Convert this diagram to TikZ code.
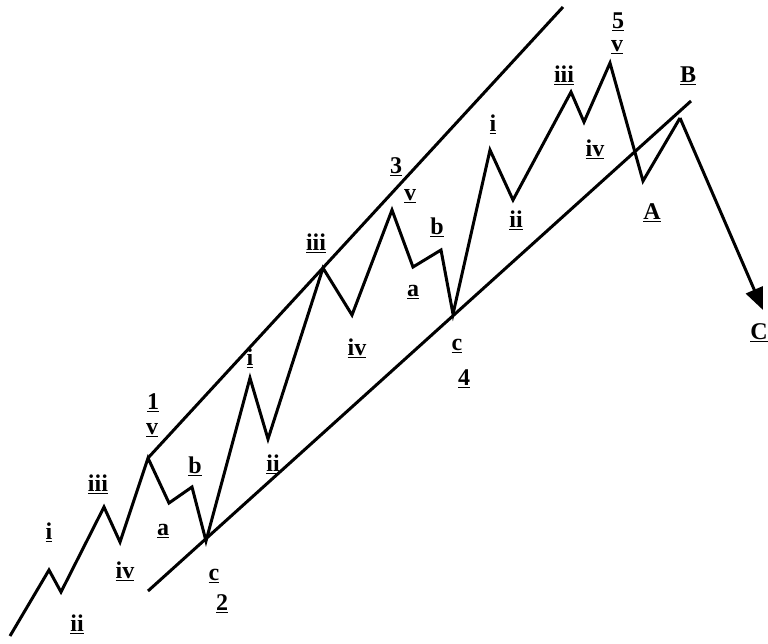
\documentclass[tikz,border=0pt]{standalone}
\usepackage{fontspec}
\setmainfont{Liberation Serif}
\usetikzlibrary{arrows.meta}
\begin{document}
\begin{tikzpicture}[x=1pt,y=-1pt,
  wave/.style={line width=3pt,line join=miter,line cap=butt},
  chan/.style={line width=3pt,line cap=butt},
  lbl/.style={font=\fontsize{24}{26}\selectfont\bfseries,inner sep=0pt}]
\useasboundingbox (0,0) rectangle (768,643);
% wave points
\coordinate (s0) at (10,636);
\coordinate (w1i) at (49,570);
\coordinate (w1ii) at (61,592);
\coordinate (w1iii) at (104,507);
\coordinate (w1iv) at (120,542);
\coordinate (w1v) at (148,458);
\coordinate (w2a) at (169,503);
\coordinate (w2b) at (192,487);
\coordinate (w2c) at (206,541);
\coordinate (w3i) at (250,378);
\coordinate (w3ii) at (268,439);
\coordinate (w3iii) at (323,268);
\coordinate (w3iv) at (352,315);
\coordinate (w3v) at (392,210);
\coordinate (w4a) at (413,267);
\coordinate (w4b) at (441,250);
\coordinate (w4c) at (453,314);
\coordinate (w5i) at (490,150);
\coordinate (w5ii) at (513,200);
\coordinate (w5iii) at (571,92);
\coordinate (w5iv) at (584,122);
\coordinate (w5v) at (610,63);
\coordinate (cA) at (643,181);
\coordinate (cB) at (680,118);
\coordinate (cC) at (763,310);
% channel ends
\coordinate (u1) at (148,458);
\coordinate (u2) at (563,7);
\coordinate (l1) at (148,591);
\coordinate (l2) at (691,101);
% channel lines
\draw[chan] (u1) -- (u2);
\draw[chan] (l1) -- (l2);
% wave
\draw[wave] (s0) -- (w1i) -- (w1ii) -- (w1iii) -- (w1iv) -- (w1v) -- (w2a) -- (w2b) -- (w2c)
  -- (w3i) -- (w3ii) -- (w3iii) -- (w3iv) -- (w3v) -- (w4a) -- (w4b) -- (w4c)
  -- (w5i) -- (w5ii) -- (w5iii) -- (w5iv) -- (w5v) -- (cA) -- (cB);
\draw[wave,-{Triangle[length=22pt,width=18pt]}] (cB) -- (cC);
% labels
\node[lbl] (t1i) at (49,532) {\underline{i}};
\node[lbl] (t1ii) at (77,624) {\underline{ii}};
\node[lbl] (t1iii) at (98,484) {\underline{iii}};
\node[lbl] (t1iv) at (125,571) {\underline{iv}};
\node[lbl] (t1) at (153,403) {\underline{1}};
\node[lbl] (t1v) at (152,430) {\underline{v}};
\node[lbl] (t2b) at (195,466) {\underline{b}};
\node[lbl] (t2a) at (163,531) {\underline{a}};
\node[lbl] (t2c) at (214,576) {\underline{c}};
\node[lbl] (t2) at (222,604) {\underline{2}};
\node[lbl] (t3i) at (250,358) {\underline{i}};
\node[lbl] (t3ii) at (273,464) {\underline{ii}};
\node[lbl] (t3iii) at (316,243) {\underline{iii}};
\node[lbl] (t3iv) at (357,348) {\underline{iv}};
\node[lbl] (t3) at (396,167) {\underline{3}};
\node[lbl] (t3v) at (410,196) {\underline{v}};
\node[lbl] (t4b) at (437,227) {\underline{b}};
\node[lbl] (t4a) at (413,292) {\underline{a}};
\node[lbl] (t4c) at (457,346) {\underline{c}};
\node[lbl] (t4) at (464,379) {\underline{4}};
\node[lbl] (t5i) at (493,124) {\underline{i}};
\node[lbl] (t5ii) at (516,220) {\underline{ii}};
\node[lbl] (t5iii) at (564,75) {\underline{iii}};
\node[lbl] (t5iv) at (595,149) {\underline{iv}};
\node[lbl] (t5) at (618,22) {\underline{5}};
\node[lbl] (t5v) at (617,47) {\underline{v}};
\node[lbl] (tB) at (688,76) {\underline{B}};
\node[lbl] (tA) at (652,213) {\underline{A}};
\node[lbl,anchor=east] (tC) at (768,333) {\underline{C}};
\end{tikzpicture}
\end{document}
